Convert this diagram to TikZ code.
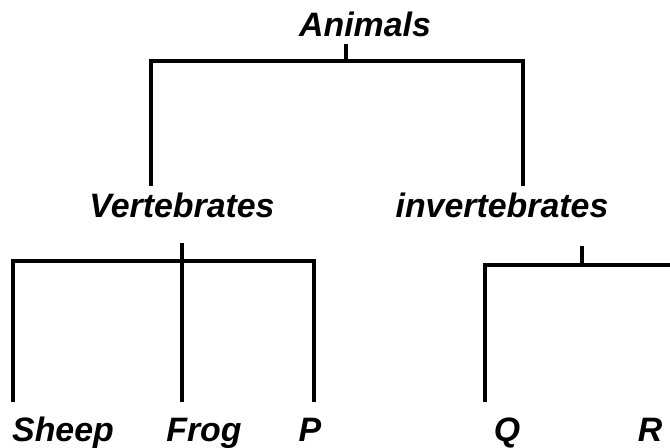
\documentclass[tikz,border=0pt]{standalone}
\usepackage{fontspec}
\setmainfont{Liberation Sans}
\begin{document}
\begin{tikzpicture}[x=1bp,y=-1bp,
  lbl/.style={anchor=base,inner sep=0pt,font=\fontsize{34}{40}\selectfont\bfseries\itshape},
  link/.style={line width=4bp,line join=miter,line cap=rect}]
\useasboundingbox (0,0) rectangle (670,448);
% labels
\node[lbl] (Animals) at (365,37) {Animals};
\node[lbl] (Vertebrates) at (182,218) {Vertebrates};
\node[lbl] (invertebrates) at (502,218) {invertebrates};
\node[lbl] (Sheep) at (63,441) {Sheep};
\node[lbl] (Frog) at (204,441) {Frog};
\node[lbl] (P) at (310,441) {P};
\node[lbl] (Q) at (507,441) {Q};
\node[lbl] (R) at (650,441) {R};
% junction coordinates
\coordinate (aTop) at (346,46);
\coordinate (aBar) at (346,61);
\coordinate (aL) at (151,61);
\coordinate (aR) at (523,61);
\coordinate (vEnd) at (151,184);
\coordinate (iEnd) at (523,184);
\coordinate (vTop) at (182,245);
\coordinate (vL) at (13,261);
\coordinate (vR) at (314,261);
\coordinate (sEnd) at (13,400);
\coordinate (fEnd) at (182,400);
\coordinate (pEnd) at (314,400);
\coordinate (iTop) at (582,248);
\coordinate (iBar) at (582,265);
\coordinate (iL) at (485,265);
\coordinate (iR) at (672,265);
\coordinate (qEnd) at (485,400);
% connectors
\draw[link] (aTop) -- (aBar);
\draw[link] (vEnd) -- (aL) -- (aR) -- (iEnd);
\draw[link] (sEnd) -- (vL) -- (vR) -- (pEnd);
\draw[link] (vTop) -- (fEnd);
\draw[link] (qEnd) -- (iL) -- (iR);
\draw[link] (iTop) -- (iBar);
\end{tikzpicture}
\end{document}
